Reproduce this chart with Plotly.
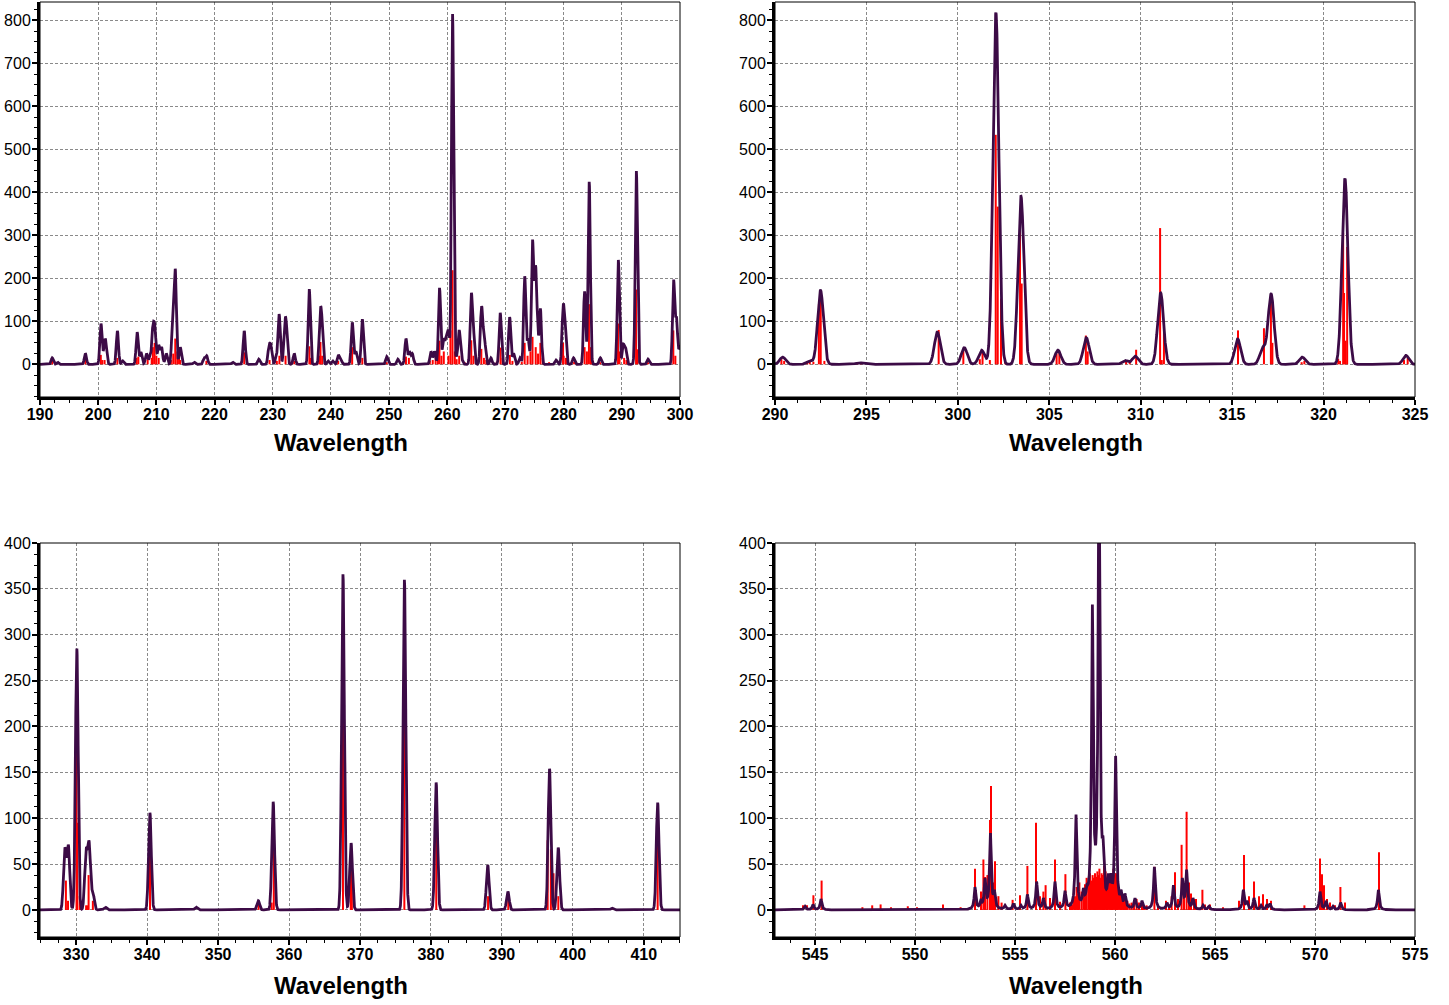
import numpy as np
import plotly.graph_objects as go

# ---------------- data ----------------
# Panel 1 (190-300 nm): envelope peak (wavelength, height) and stick lines
TL_ENV_X = [192.1, 193.0, 197.8, 200.48, 201.1, 201.35, 203.3, 204.2, 206.7, 207.35, 208.3, 208.9,
            209.4, 209.75, 210.4, 210.9, 211.7, 212.8, 213.25, 214.1, 216.5, 218.2, 218.65, 223.1,
            225.1, 227.6, 229.35, 229.7, 230.6, 231.1, 232.05, 232.35, 233.7, 236.28, 238.15, 238.45,
            239.5, 240.3, 241.26, 241.7, 243.67, 244.3, 245.4, 249.6, 251.5, 252.9, 253.5, 254.0,
            257.2, 257.8, 258.67, 259.36, 259.8, 260.2, 260.91, 261.6, 262.05, 262.5, 264.12, 264.5,
            265.84, 266.1, 266.45, 267.5, 269.1, 270.72, 271.4, 272.5, 273.31, 273.9, 274.65,
            275.15, 275.45, 276.0, 278.7, 279.9, 280.25, 281.7, 283.6, 284.4, 286.3, 289.4,
            290.24, 290.64, 292.5, 294.5, 298.9, 299.4, 300.0]
TL_ENV_Y = [15, 5, 25, 95, 55, 50, 78, 8, 75, 28, 25, 20,
            93, 90, 45, 40, 25, 110, 222, 40, 5, 15, 20, 5,
            78, 12, 45, 45, 20, 117, 100, 95, 25, 175, 125, 110,
            8, 8, 22, 15, 98, 30, 105, 18, 12, 60, 30, 25,
            30, 30, 178, 60, 65, 80, 815, 20, 80, 15, 165, 90,
            130, 105, 55, 15, 120, 110, 25, 15, 205, 60, 290,
            230, 130, 130, 10, 138, 100, 15, 170, 425, 15, 243,
            46, 40, 450, 12, 197, 110, 45]
TL_STICK_X = [192.1, 197.8, 200.45, 200.7, 201.1, 203.3, 206.6, 206.9, 208.5, 209.2, 209.4, 209.7,
              210.0, 210.4, 212.5, 212.9, 213.25, 213.6, 213.9, 214.1, 218.6, 225.1, 229.45, 230.7,
              231.15, 232.2, 233.7, 236.3, 236.5, 238.0, 238.2, 238.5, 240.0, 241.25, 243.65, 245.4,
              249.6, 252.9, 253.4, 257.0, 257.5, 258.0, 258.4, 258.65, 259.0, 259.4, 260.2, 260.55,
              260.9, 261.3, 261.6, 262.05, 263.0, 264.12, 264.5, 265.85, 266.3, 266.7, 267.2, 268.5,
              269.15, 269.5, 270.75, 271.2, 272.8, 273.3, 273.8, 274.3, 274.65, 275.2, 275.6, 276.0,
              276.4, 277.5, 279.9, 280.0, 280.4, 281.8, 283.6, 284.0, 284.35, 284.7, 286.3, 289.35,
              289.6, 290.4, 290.8, 292.45, 292.7, 294.5, 298.85, 299.2]
TL_STICK_Y = [8, 10, 22, 10, 10, 15, 15, 18, 12, 15, 40, 50,
              20, 15, 10, 25, 60, 30, 15, 10, 8, 28, 10, 8,
              20, 20, 8, 42, 15, 20, 52, 20, 5, 8, 40, 15,
              5, 18, 15, 8, 10, 15, 35, 55, 20, 30, 20, 79,
              219, 30, 12, 20, 5, 56, 20, 36, 15, 10, 8, 6,
              39, 15, 22, 8, 6, 50, 20, 30, 64, 40, 25, 50,
              15, 5, 50, 20, 15, 6, 40, 30, 140, 40, 5, 95,
              30, 15, 10, 174, 35, 5, 79, 20]

# Panel 2 (290-325 nm)
TR_ENV_X = [290.42, 291.9, 292.49, 294.5, 294.75, 298.88, 300.35, 301.3, 302.08, 303.45, 305.47,
            307.02, 309.14, 309.7, 311.09, 315.3, 316.67, 317.13, 318.83, 321.17, 324.5]
TR_ENV_Y = [17, 8, 172, 3, 3, 75, 39, 33, 818, 391, 33,
            62, 9, 19, 166, 59, 40, 164, 17, 432, 21]
TR_STICK_X = [290.35, 290.5, 291.75, 291.9, 292.1, 292.4, 292.5, 292.7, 294.5, 294.7, 298.95,
              300.3, 301.2, 301.35, 301.75, 302.07, 302.18, 302.36, 302.6, 303.4, 303.49, 305.4,
              305.55, 307.0, 307.1, 309.2, 309.4, 309.75, 311.06, 311.15, 311.27, 315.32, 316.74,
              317.12, 317.2, 318.8, 318.95, 320.8, 320.9, 321.07, 321.12, 321.2, 321.29, 324.4, 324.6]
TR_STICK_Y = [12, 8, 5, 6, 6, 140, 168, 8, 3, 3, 80,
              35, 12, 30, 10, 534, 367, 153, 5, 358, 188, 25,
              30, 67, 30, 8, 10, 34, 317, 10, 87, 79, 84,
              157, 50, 5, 8, 13, 8, 306, 166, 55, 273, 10, 15]

# Panel 3 (325-415 nm)
BL_ENV_X = [328.4, 328.9, 330.09, 331.38, 331.82, 332.35, 334.1, 340.39, 346.9, 355.67, 357.76,
            367.6, 368.74, 376.26, 380.73, 388.0, 390.84, 396.71, 397.94, 405.5, 411.95]
BL_ENV_Y = [68, 71, 285, 66, 75, 20, 3, 106, 3, 10, 118,
            366, 73, 360, 139, 49, 20, 154, 68, 2, 117]
BL_STICK_X = [328.55, 328.85, 330.05, 330.15, 330.5, 331.4, 331.6, 331.75, 332.35, 340.4, 355.7,
              357.55, 357.85, 367.6, 368.7, 368.85, 376.25, 380.75, 388.05, 390.9, 396.45, 396.9,
              397.27, 397.95, 405.55, 411.95]
BL_STICK_Y = [32, 10, 172, 95, 15, 5, 5, 38, 10, 68, 8,
              8, 76, 244, 49, 62, 248, 99, 15, 12, 76, 66,
              40, 15, 2, 88]

# Panel 4 (543-575 nm)
BR_ENV_X = [544.5, 544.9, 545.3, 553.0, 553.3, 553.5, 553.77, 553.97, 554.5, 554.92, 555.3, 555.62,
            556.08, 556.42, 557.0, 557.5, 558.05, 558.42, 558.6, 558.87, 559.2, 559.4, 559.67, 559.8,
            560.03, 560.3, 560.5, 561.0, 561.35, 561.97, 562.6, 562.92, 563.37, 563.58, 563.9, 564.4,
            564.7, 566.42, 566.6, 566.95, 567.3, 567.6, 567.75, 570.25, 570.55, 570.9, 571.28, 573.17]
BR_ENV_Y = [4, 6, 12, 25, 12, 35, 84, 22, 5, 7, 5, 17,
            31, 13, 31, 21, 104, 24, 29, 333, 520, 80, 40, 40,
            168, 22, 18, 13, 10, 47, 8, 27, 35, 44, 13, 5,
            4, 22, 10, 13, 5, 6, 7, 20, 10, 4, 8, 22]
BR_STICK_X = [544.4, 544.6, 544.92, 545.33, 547.37, 547.86, 548.28, 548.8, 549.64, 550.1, 551.4,
              552.28, 553.0, 553.3, 553.42, 553.5, 553.62, 553.75, 553.8, 553.9, 554.0, 554.17,
              554.33, 554.88, 555.25, 555.62, 556.05, 556.25, 556.42, 556.53, 556.75, 557.0, 557.25,
              557.52, 557.75, 557.85, 557.92, 558.0, 558.08, 558.15, 558.22, 558.33, 558.42, 558.5,
              558.58, 558.67, 558.75, 558.82, 558.88, 558.95, 559.0, 559.06, 559.12, 559.18, 559.22,
              559.28, 559.33, 559.4, 559.45, 559.53, 559.6, 559.67, 559.73, 559.78, 559.85, 559.92,
              559.98, 560.05, 560.1, 560.17, 560.23, 560.3, 560.38, 560.45, 560.55, 560.62, 560.72,
              560.83, 560.95, 561.08, 561.2, 561.35, 561.45, 561.58, 561.97, 562.15, 562.55, 562.7,
              562.83, 563.0, 563.15, 563.33, 563.45, 563.58, 563.7, 563.8, 563.95, 564.05, 564.37,
              564.5, 564.75, 565.4, 566.2, 566.45, 566.7, 566.95, 567.2, 567.4, 567.6, 567.8,
              569.47, 569.9, 570.25, 570.35, 570.45, 570.6, 570.75, 571.0, 571.27, 571.5, 573.2]
BR_STICK_Y = [5, 5, 16, 32, 3, 5, 6, 3, 4, 3, 6,
              3, 45, 20, 55, 36, 38, 98, 135, 30, 53, 15,
              8, 11, 16, 48, 95, 15, 20, 27, 13, 55, 9,
              39, 8, 6, 12, 15, 25, 18, 30, 20, 22, 28,
              35, 30, 40, 32, 38, 35, 40, 36, 42, 38, 45,
              35, 40, 38, 48, 42, 33, 30, 36, 35, 30, 45,
              38, 40, 30, 25, 20, 18, 15, 12, 10, 10, 7,
              8, 6, 12, 8, 6, 5, 5, 47, 5, 10, 6,
              15, 41, 12, 71, 20, 107, 30, 18, 12, 12, 22,
              6, 6, 3, 10, 60, 15, 31, 15, 17, 12, 10,
              5, 2, 56, 39, 27, 12, 8, 5, 25, 8, 63]

X_RANGES = [[190, 300], [290, 325], [324.9, 415.1], [543, 575]]
Y_RANGES = [[-76, 843], [-76, 843], [-29.5, 400], [-29.5, 400]]
X_TICK0 = [190, 290, 330, 545]
X_DTICK = [10, 5, 10, 5]
Y_DTICK = [100, 100, 50, 50]
X_TITLE = "Wavelength"

# ---------------- helpers ----------------
def envelope(cx, cy, xs, shape, w):
    cx = np.asarray(cx, float)
    cy = np.asarray(cy, float)
    if shape == "g":
        s = w / 2.3548
        kern = lambda d: np.exp(-0.5 * (d / s) ** 2)
    else:
        kern = lambda d: 1.0 / (1.0 + (d / w) ** 2)
    A = kern(cx[:, None] - cx[None, :])
    a = cy.copy() * 0.8
    r = cy - A @ a
    for _ in range(300):
        for j in range(len(a)):
            col = A[:, j]
            new = max(0.0, a[j] + col @ r / (col @ col))
            d = new - a[j]
            if d != 0.0:
                r -= col * d
                a[j] = new
    return kern(xs[:, None] - cx[None, :]) @ a


def sticks(sx, sy):
    xx, yy = [], []
    for x, y in zip(sx, sy):
        xx += [x, x, None]
        yy += [0, y, None]
    return xx, yy

panels = [
    (TL_ENV_X, TL_ENV_Y, TL_STICK_X, TL_STICK_Y, "g", 0.44),
    (TR_ENV_X, TR_ENV_Y, TR_STICK_X, TR_STICK_Y, "g", 0.38),
    (BL_ENV_X, BL_ENV_Y, BL_STICK_X, BL_STICK_Y, "g", 0.45),
    (BR_ENV_X, BR_ENV_Y, BR_STICK_X, BR_STICK_Y, "l", 0.05),
]

W, H = 1449, 1005
XDOM = [[40 / W, 680 / W], [775 / W, 1415 / W], [40 / W, 680 / W], [775 / W, 1415 / W]]
YDOM = [[1 - 397 / H, 1 - 2 / H], [1 - 397 / H, 1 - 2 / H],
        [1 - 937 / H, 1 - 543 / H], [1 - 937 / H, 1 - 543 / H]]
TITLE_POS = [(341, 443), (1076, 443), (341, 985), (1076, 985)]

RED = "#ff0000"
PURPLE = "#3c0b46"
FONT = "Liberation Sans, Arial, sans-serif"

fig = go.Figure()
layout = dict(width=W, height=H, margin=dict(l=0, r=0, t=0, b=0, autoexpand=False),
              paper_bgcolor="white", plot_bgcolor="white", showlegend=False,
              font=dict(family=FONT, color="black"), shapes=[], annotations=[])

for i, (ex, ey, sx, sy, shape, w) in enumerate(panels):
    n = i + 1
    xs = np.linspace(X_RANGES[i][0], X_RANGES[i][1], 7000)
    ys = envelope(ex, ey, xs, shape, w)
    xk = "x" if n == 1 else f"x{n}"
    yk = "y" if n == 1 else f"y{n}"
    stx, sty = sticks(sx, sy)
    fig.add_trace(go.Scatter(x=stx, y=sty, mode="lines", line=dict(color=RED, width=2),
                             xaxis=xk, yaxis=yk, hoverinfo="skip"))
    fig.add_trace(go.Scatter(x=xs, y=ys, mode="lines", line=dict(color=PURPLE, width=2.8),
                             xaxis=xk, yaxis=yk))
    xd = X_DTICK[i]
    layout[f"xaxis{'' if n == 1 else n}"] = dict(
        domain=XDOM[i], anchor=yk, range=X_RANGES[i], tick0=X_TICK0[i], dtick=xd,
        automargin=False, ticklabelstandoff=-4,
        ticks="outside", ticklen=5, tickwidth=1.5, tickcolor="black",
        showline=True, linewidth=3, linecolor="black",
        showgrid=True, gridcolor="#8a8a8a", gridwidth=1, griddash="3px,2px", zeroline=False,
        minor=dict(tick0=X_TICK0[i], dtick=xd / 4, ticks="outside", ticklen=3,
                   tickcolor="black", tickwidth=1, showgrid=False),
        tickfont=dict(family=FONT, size=16, color="black", weight="bold"),
    )
    yd = Y_DTICK[i]
    layout[f"yaxis{'' if n == 1 else n}"] = dict(
        domain=YDOM[i], anchor=xk, range=Y_RANGES[i], tick0=0, dtick=yd,
        automargin=False, ticklabelstandoff=-2,
        ticks="outside", ticklen=5, tickwidth=1.5, tickcolor="black",
        showline=True, linewidth=3, linecolor="black",
        showgrid=True, gridcolor="#8a8a8a", gridwidth=1, griddash="3px,2px", zeroline=False,
        minor=dict(tick0=0, dtick=yd / 4, ticks="outside", ticklen=3,
                   tickcolor="black", tickwidth=1, showgrid=False),
        tickfont=dict(family=FONT, size=16, color="black"),
    )
    layout["shapes"].append(dict(type="rect", xref=f"{xk} domain", yref=f"{yk} domain",
                                 x0=0, x1=1, y0=0, y1=1, line=dict(color="black", width=1),
                                 layer="above"))
    tx, ty = TITLE_POS[i]
    layout["annotations"].append(dict(
        text=X_TITLE, xref="paper", yref="paper", x=tx / W, y=1 - ty / H,
        xanchor="center", yanchor="middle", showarrow=False,
        font=dict(family=FONT, size=24, color="black", weight="bold")))

fig.update_layout(**layout)
fig.write_html("out.html", config={"displayModeBar": False},
               post_script="document.body.style.margin='0';")
